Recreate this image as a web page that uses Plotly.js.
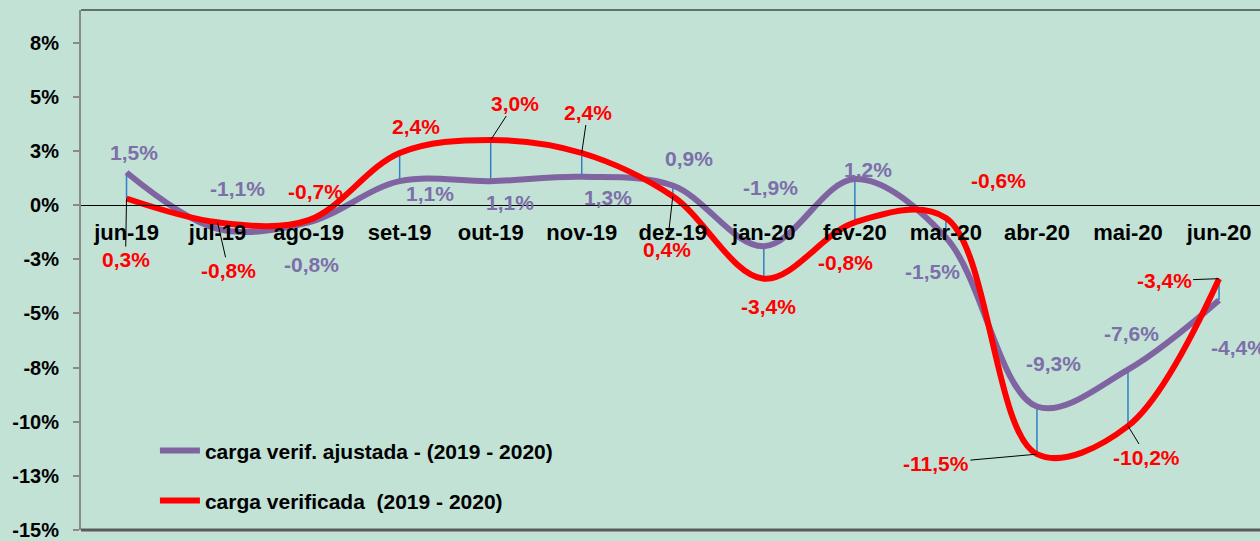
<!DOCTYPE html>
<html>
<head>
<meta charset="utf-8">
<script src="https://cdn.plot.ly/plotly-3.0.1.min.js"></script>
<style>
  html, body { margin: 0; padding: 0; background: #c2e2d6; overflow: hidden; }
  #chart { width: 1260px; height: 541px; }
</style>
</head>
<body>
<div id="chart"></div>
<script>
// ---- data ----
const categories = ['jun-19','jul-19','ago-19','set-19','out-19','nov-19','dez-19','jan-20','fev-20','mar-20','abr-20','mai-20','jun-20'];
const cargaAjustada = [1.5, -1.1, -0.8, 1.1, 1.1, 1.3, 0.9, -1.9, 1.2, -1.5, -9.3, -7.6, -4.4];
const cargaVerificada = [0.3, -0.8, -0.7, 2.4, 3.0, 2.4, 0.4, -3.4, -0.8, -0.6, -11.5, -10.2, -3.4];
const yTickVals = [-15, -12.5, -10, -7.5, -5, -2.5, 0, 2.5, 5, 7.5];
const yTickText = ['-15%', '-13%', '-10%', '-8%', '-5%', '-3%', '0%', '3%', '5%', '8%'];
const seriesNames = ['carga verif. ajustada - (2019 - 2020)', 'carga verificada  (2019 - 2020)'];

// ---- label placement (pixel offsets of label centre from point) ----
const purpleOffsets = [[7,-20],[20,-40],[3,42],[30,12],[19,21],[26,21],[16,-27],[7,-59],[13,-10],[-13,34],[17,-43],[4,-36],[19,47]];
const redOffsets = [[-1,61],[11,48],[7,-29],[16,-27],[24,-37],[6,-41],[-6,53],[5,28],[-9,40],[53,-38],[-101,9],[19,31],[-55,2]];
const redLeader = [true,true,false,false,true,true,true,false,false,false,true,true,true];

const PURPLE = '#8064a2';
const PURPLE_TXT = '#7d6fa9';
const RED = '#ff0000';
const FONT = '"Liberation Sans", Arial, sans-serif';

const fmt = v => v.toFixed(1).replace('.', ',') + '%';

// high-low connector lines
const hlX = [], hlY = [];
categories.forEach((c, i) => { hlX.push(c, c, null); hlY.push(cargaAjustada[i], cargaVerificada[i], null); });

const traces = [
  { x: hlX, y: hlY, mode: 'lines', line: { color: '#2f80c8', width: 1.5 }, showlegend: false, hoverinfo: 'skip', cliponaxis: false },
  { x: categories, y: cargaAjustada, name: seriesNames[0], mode: 'lines',
    line: { color: PURPLE, width: 6, shape: 'spline', smoothing: 1 }, legend: 'legend', cliponaxis: false },
  { x: categories, y: cargaVerificada, name: seriesNames[1], mode: 'lines',
    line: { color: RED, width: 6, shape: 'spline', smoothing: 1 }, legend: 'legend2', cliponaxis: false }
];

const annotations = [];
categories.forEach((c, i) => {
  annotations.push({
    x: c, y: cargaAjustada[i], xref: 'x', yref: 'y', text: fmt(cargaAjustada[i]),
    showarrow: false, xshift: purpleOffsets[i][0], yshift: -purpleOffsets[i][1],
    font: { family: FONT, size: 21, color: PURPLE_TXT, weight: 'bold' }
  });
  const a = {
    x: c, y: cargaVerificada[i], xref: 'x', yref: 'y', text: fmt(cargaVerificada[i]),
    font: { family: FONT, size: 21, color: RED, weight: 'bold' }
  };
  if (redLeader[i]) {
    Object.assign(a, { showarrow: true, arrowhead: 0, arrowwidth: 1, arrowcolor: '#000', standoff: 0,
      ax: redOffsets[i][0], ay: redOffsets[i][1] });
  } else {
    Object.assign(a, { showarrow: false, xshift: redOffsets[i][0], yshift: -redOffsets[i][1] });
  }
  annotations.push(a);
});

const layout = {
  width: 1260, height: 541,
  margin: { l: 81, r: 0, t: 10, b: 11 },
  paper_bgcolor: '#c2e2d6', plot_bgcolor: '#c2e2d6',
  font: { family: FONT, color: '#000' },
  xaxis: {
    type: 'category', range: [-0.5, 12.45], anchor: 'free', position: 15/24,
    showline: true, linecolor: '#000', linewidth: 1, ticks: '', showgrid: false, zeroline: false,
    tickfont: { family: FONT, size: 22, color: '#000', weight: 'bold' }, ticklabelstandoff: 8, fixedrange: true
  },
  yaxis: {
    range: [-15, 9], tickvals: yTickVals, ticktext: yTickText,
    showline: true, linecolor: '#8a8a8a', linewidth: 2, ticks: 'outside', ticklen: 6, tickcolor: '#8a8a8a', tickwidth: 2,
    showgrid: false, zeroline: false, ticklabelstandoff: 10,
    tickfont: { family: FONT, size: 20, color: '#000', weight: 'bold' }
  },
  shapes: [
    { type: 'line', xref: 'paper', yref: 'paper', x0: 0, x1: 1, y0: 1, y1: 1, line: { color: '#000', width: 1 } },
    { type: 'line', xref: 'paper', yref: 'paper', x0: 0, x1: 1, y0: 0, y1: 0, line: { color: '#5a5a5a', width: 3 } }
  ],
  legend: { x: 0.0627, y: 0.152, xanchor: 'left', yanchor: 'middle', bgcolor: 'rgba(0,0,0,0)', itemwidth: 40,
    font: { family: FONT, size: 21, color: '#000', weight: 'bold' } },
  legend2: { x: 0.0627, y: 0.056, xanchor: 'left', yanchor: 'middle', bgcolor: 'rgba(0,0,0,0)', itemwidth: 40,
    font: { family: FONT, size: 21, color: '#000', weight: 'bold' } },
  annotations: annotations
};

Plotly.newPlot('chart', traces, layout, { displayModeBar: false, staticPlot: true });
</script>
</body>
</html>
